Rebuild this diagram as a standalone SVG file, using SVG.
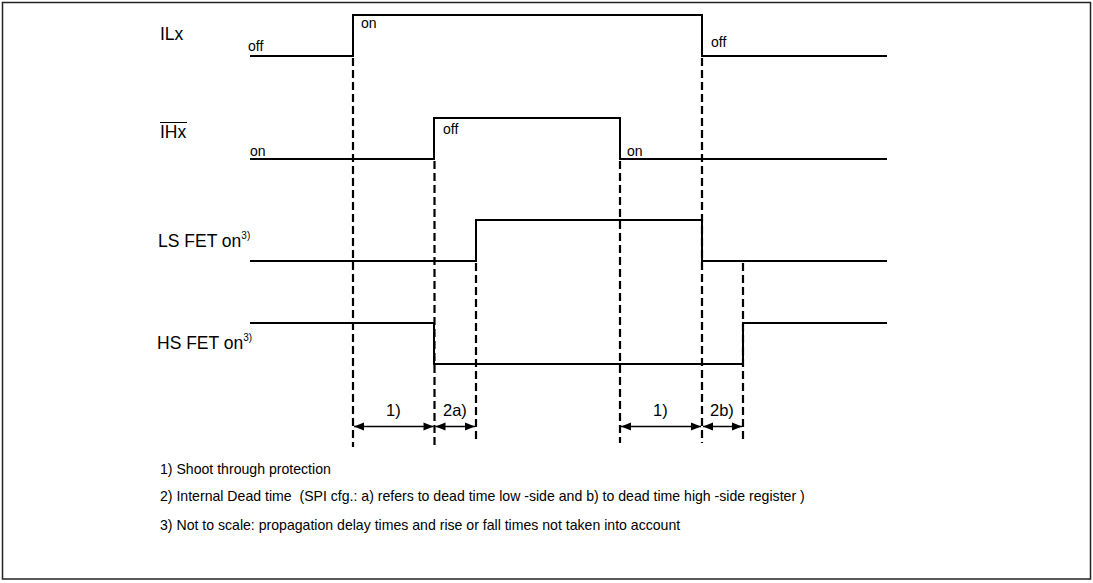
<svg xmlns="http://www.w3.org/2000/svg" width="1093" height="583" viewBox="0 0 1093 583">
<style>
.sig{fill:none;stroke:#000;stroke-width:2}
.dash{fill:none;stroke:#000;stroke-width:2.2;stroke-dasharray:8 4}
.arr{fill:none;stroke:#000;stroke-width:1.3}
.lbl{font-family:"Liberation Sans",Arial,sans-serif;font-size:17.5px;fill:#000}
.st{font-family:"Liberation Sans",Arial,sans-serif;font-size:14px;fill:#000}
.sup{font-size:10px}
.dim{font-family:"Liberation Sans",Arial,sans-serif;font-size:16.5px;fill:#000}
.note{font-family:"Liberation Sans",Arial,sans-serif;font-size:14.1px;fill:#000;white-space:pre}
</style>
<defs>
<marker id="ah" viewBox="0 0 10 10" refX="10" refY="5" markerWidth="11" markerHeight="10" markerUnits="userSpaceOnUse" orient="auto-start-reverse">
<path d="M0,1 L10,5 L0,9 Z" fill="#000"/>
</marker>
</defs>
<rect x="2.5" y="2.5" width="1088" height="576.5" fill="#fff" stroke="#222" stroke-width="1.5"/>
<g id="ilx">
<text class="lbl" x="160" y="40">ILx</text>
<path class="sig" d="M250,56 H353 V15 H702 V56 H887"/>
<text class="st" x="248" y="51">off</text>
<text class="st" x="361" y="28">on</text>
<text class="st" x="711" y="47">off</text>
</g>
<g id="ihx">
<text class="lbl" x="160" y="138">IHx</text>
<line x1="160" y1="122.5" x2="187" y2="122.5" stroke="#000" stroke-width="1"/>
<path class="sig" d="M250,159 H434 V118 H620 V159 H887"/>
<text class="st" x="250" y="156">on</text>
<text class="st" x="443" y="134">off</text>
<text class="st" x="627" y="156">on</text>
</g>
<g id="lsfet">
<text class="lbl" x="158" y="247">LS FET on<tspan class="sup" dy="-8">3)</tspan></text>
<path class="sig" d="M250,261 H476 V220 H702 V261 H887"/>
</g>
<g id="hsfet">
<text class="lbl" x="157" y="349">HS FET on<tspan class="sup" dy="-8">3)</tspan></text>
<path class="sig" d="M250,323 H434 V364 H743 V323 H887"/>
</g>
<g id="connectors">
<line class="dash" x1="353" y1="58" x2="353" y2="447"/>
<line class="dash" x1="434.5" y1="161" x2="434.5" y2="448"/>
<line class="dash" x1="476" y1="263" x2="476" y2="442"/>
<line class="dash" x1="620" y1="161" x2="620" y2="443"/>
<line class="dash" x1="702" y1="58" x2="702" y2="443"/>
<line class="dash" x1="743" y1="263" x2="743" y2="443"/>
<line class="arr" x1="354" y1="426.5" x2="433.5" y2="426.5" marker-start="url(#ah)" marker-end="url(#ah)"/>
<line class="arr" x1="435.5" y1="426.5" x2="475" y2="426.5" marker-start="url(#ah)" marker-end="url(#ah)"/>
<line class="arr" x1="621" y1="426.5" x2="701" y2="426.5" marker-start="url(#ah)" marker-end="url(#ah)"/>
<line class="arr" x1="703" y1="426.5" x2="742" y2="426.5" marker-start="url(#ah)" marker-end="url(#ah)"/>
<text class="dim" x="386" y="416">1)</text>
<text class="dim" x="443" y="416">2a)</text>
<text class="dim" x="653" y="416">1)</text>
<text class="dim" x="710" y="416">2b)</text>
</g>
<g id="notes">
<text class="note" x="160" y="474">1) Shoot through protection</text>
<text class="note" x="160" y="501">2) Internal Dead time  (SPI cfg.: a) refers to dead time low -side and b) to dead time high -side register )</text>
<text class="note" x="160" y="530">3) Not to scale: propagation delay times and rise or fall times not taken into account</text>
</g>
</svg>
